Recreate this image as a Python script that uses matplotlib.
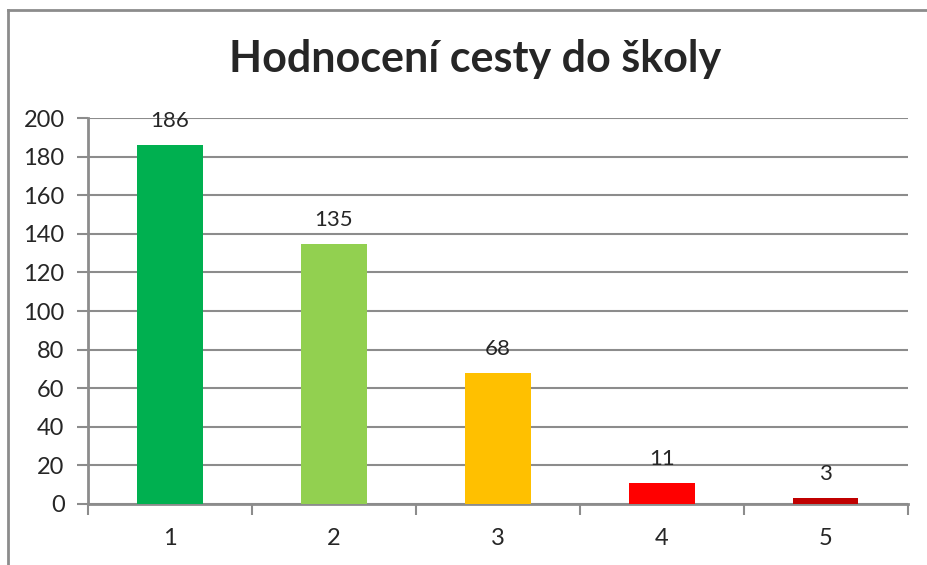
import matplotlib.pyplot as plt
from matplotlib.lines import Line2D

# data
categories = ['1', '2', '3', '4', '5']
values = [186, 135, 68, 11, 3]
colors = ['#00B050', '#92D050', '#FFC000', '#FF0000', '#C00000']
title = 'Hodnocení cesty do školy'

plt.rcParams['font.family'] = ['Lato', 'DejaVu Sans']
text_color = '#262626'
grid_color = '#8c8c8c'

fig = plt.figure(figsize=(9.28, 5.65), dpi=100)
ax = fig.add_axes([0.095, 0.108, 0.883, 0.683])

x = list(range(1, len(categories) + 1))
ax.bar(x, values, width=0.4, color=colors, zorder=3)

# popisky hodnot
for xi, v in zip(x, values):
    ax.annotate(str(v), (xi, v), xytext=(0, 10), textcoords='offset points',
                ha='center', va='bottom', fontsize=16, color=text_color, zorder=4)

ax.set_xlim(0.5, 5.5)
ax.set_ylim(0, 200)
ax.set_yticks(range(0, 201, 20))
ax.set_xticks(x)
ax.set_xticklabels(categories)
ax.set_xticks([i + 0.5 for i in range(0, 6)], minor=True)

ax.yaxis.grid(True, color=grid_color, linewidth=1.5, zorder=0)
ax.set_axisbelow(True)

for s in ['top', 'right']:
    ax.spines[s].set_visible(False)
for s in ['left', 'bottom']:
    ax.spines[s].set_color(grid_color)
    ax.spines[s].set_linewidth(2)

ax.tick_params(axis='y', direction='out', length=8, width=1.5, color=grid_color,
               labelsize=17, labelcolor=text_color, pad=9)
ax.tick_params(axis='x', which='major', length=0, labelsize=17,
               labelcolor=text_color, pad=17)
ax.tick_params(axis='x', which='minor', direction='out', length=8, width=1.5,
               color=grid_color)

fig.text(0.512, 0.895, title, ha='center', va='center', fontsize=31,
         fontweight='bold', color=text_color)

# ramecek grafu (oriznuty vpravo a dole)
fig.add_artist(Line2D([8 / 928, 8 / 928], [0, 1 - 10 / 565], transform=fig.transFigure,
                      color=grid_color, linewidth=2))
fig.add_artist(Line2D([8 / 928, 1], [1 - 10 / 565, 1 - 10 / 565], transform=fig.transFigure,
                      color=grid_color, linewidth=2))

fig.savefig('out.png', dpi=100)
